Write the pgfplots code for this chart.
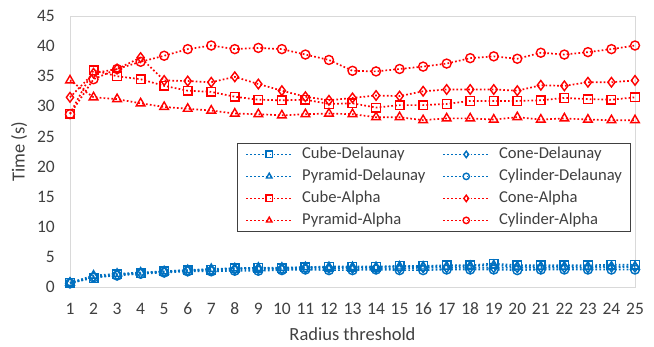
\documentclass[border=0pt]{standalone}
\usepackage{fontspec}
\setmainfont{Carlito}
\usepackage{pgfplots}
\usepackage{pgfplotstable}
\pgfplotsset{compat=1.18}
\definecolor{xlblue}{HTML}{0070C0}
\definecolor{xlred}{HTML}{FF0000}
\definecolor{xltext}{HTML}{404040}
\definecolor{xlframe}{HTML}{D9D9D9}

\pgfplotstableread{
x  cubeD pyrD coneD cylD cubeA coneA pyrA cylA
1  0.7  0.7  0.7  0.6  28.8 31.5 34.3 28.7
2  1.5  1.9  1.7  1.6  36.0 35.5 31.5 34.5
3  2.1  2.2  2.0  1.9  35.0 36.2 31.2 36.2
4  2.3  2.4  2.3  2.2  34.5 38.1 30.5 37.4
5  2.6  2.6  2.5  2.4  33.4 34.3 29.9 38.4
6  2.8  2.8  2.7  2.6  32.6 34.2 29.6 39.5
7  2.9  3.0  2.8  2.6  32.4 34.0 29.3 40.1
8  3.1  3.1  2.9  2.7  31.6 34.9 28.8 39.5
9  3.2  3.2  3.0  2.7  31.1 33.7 28.7 39.7
10 3.1  3.2  3.0  2.8  31.0 32.6 28.5 39.5
11 3.3  3.3  3.1  2.9  31.1 31.6 28.7 38.6
12 3.4  3.3  3.1  2.8  30.4 31.0 28.8 37.7
13 3.4  3.3  3.1  2.8  30.5 31.4 28.7 35.9
14 3.4  3.3  3.1  2.9  29.8 31.8 28.2 35.8
15 3.5  3.4  3.1  2.8  30.2 31.7 28.2 36.2
16 3.5  3.4  3.2  2.8  30.2 32.5 27.7 36.6
17 3.6  3.4  3.2  2.9  30.4 32.8 28.0 37.1
18 3.6  3.5  3.2  2.9  30.9 32.8 28.0 38.0
19 3.9  3.6  3.2  2.9  30.9 32.8 27.8 38.3
20 3.6  3.4  3.2  2.8  30.9 32.6 28.2 37.9
21 3.6  3.4  3.2  2.9  31.0 33.5 27.8 38.9
22 3.6  3.4  3.2  2.9  31.4 33.4 28.0 38.6
23 3.6  3.4  3.2  2.9  31.2 34.0 27.8 39.0
24 3.7  3.4  3.3  2.9  31.1 34.0 27.7 39.5
25 3.7  3.4  3.3  2.9  31.5 34.3 27.7 40.1
}\datatable

\begin{document}
\begin{tikzpicture}
\path[use as bounding box] (-70pt,-59pt) rectangle (584pt,287pt);
\begin{axis}[
  scale only axis,
  width=565pt, height=271pt,
  xmin=1, xmax=25, ymin=0, ymax=45,
  xtick={1,2,...,25}, ytick={0,5,...,45},
  axis line style={xlframe, line width=0.8pt},
  tick style={draw=none},
  major tick length=0pt,
  clip=false,
  /pgf/number format/assume math mode=true,
  every tick label/.append style={font=\fontsize{17.5}{20}\selectfont, text=xltext},
  xticklabel style={anchor=center, inner sep=0pt, yshift=-22pt},
  yticklabel style={anchor=east, inner sep=0pt, xshift=-15pt},
  xlabel={Radius threshold},
  ylabel={Time (s)},
  label style={font=\fontsize{18.5}{21}\selectfont, text=xltext},
  xlabel style={at={(axis description cs:0.5,-0.175)}, anchor=center},
  ylabel style={at={(axis description cs:-0.09,0.5)}, anchor=center},
  legend columns=2,
  legend cell align=left,
  legend style={at={(axis description cs:0.2956,0.5314)}, anchor=north west,
    draw=xltext, line width=0.8pt, fill=white,
    font=\fontsize{16.6}{19}\selectfont, text=xltext,
    nodes={inner sep=0pt, text height=12pt, text depth=4pt},
    inner xsep=8pt, inner ysep=3pt,
    row sep=6pt,
    /tikz/every odd column/.append style={column sep=9pt},
    /tikz/every even column/.append style={column sep=17pt}},
  legend image code/.code={%
    \draw[#1, mark repeat=2, mark phase=2, mark size=3.2pt] plot coordinates {(0pt,0pt) (23pt,0pt) (46pt,0pt)};},
  every axis plot/.append style={line width=1.7pt, dash pattern=on 1.7pt off 2.2pt,
     mark options={solid, line width=1.4pt, fill=none}},
]
\addplot[xlblue, mark=square, mark size=4.3pt] table[x=x,y=cubeD] {\datatable};
\addlegendentry{Cube-Delaunay}
\addplot[xlblue, mark=diamond, mark size=4.8pt] table[x=x,y=coneD] {\datatable};
\addlegendentry{Cone-Delaunay}
\addplot[xlblue, mark=triangle, mark size=5pt] table[x=x,y=pyrD] {\datatable};
\addlegendentry{Pyramid-Delaunay}
\addplot[xlblue, mark=o, mark size=4.5pt] table[x=x,y=cylD] {\datatable};
\addlegendentry{Cylinder-Delaunay}
\addplot[xlred, mark=square, mark size=4.3pt] table[x=x,y=cubeA] {\datatable};
\addlegendentry{Cube-Alpha}
\addplot[xlred, mark=diamond, mark size=4.8pt] table[x=x,y=coneA] {\datatable};
\addlegendentry{Cone-Alpha}
\addplot[xlred, mark=triangle, mark size=5pt] table[x=x,y=pyrA] {\datatable};
\addlegendentry{Pyramid-Alpha}
\addplot[xlred, mark=o, mark size=4.5pt] table[x=x,y=cylA] {\datatable};
\addlegendentry{Cylinder-Alpha}
\end{axis}
\end{tikzpicture}
\end{document}
